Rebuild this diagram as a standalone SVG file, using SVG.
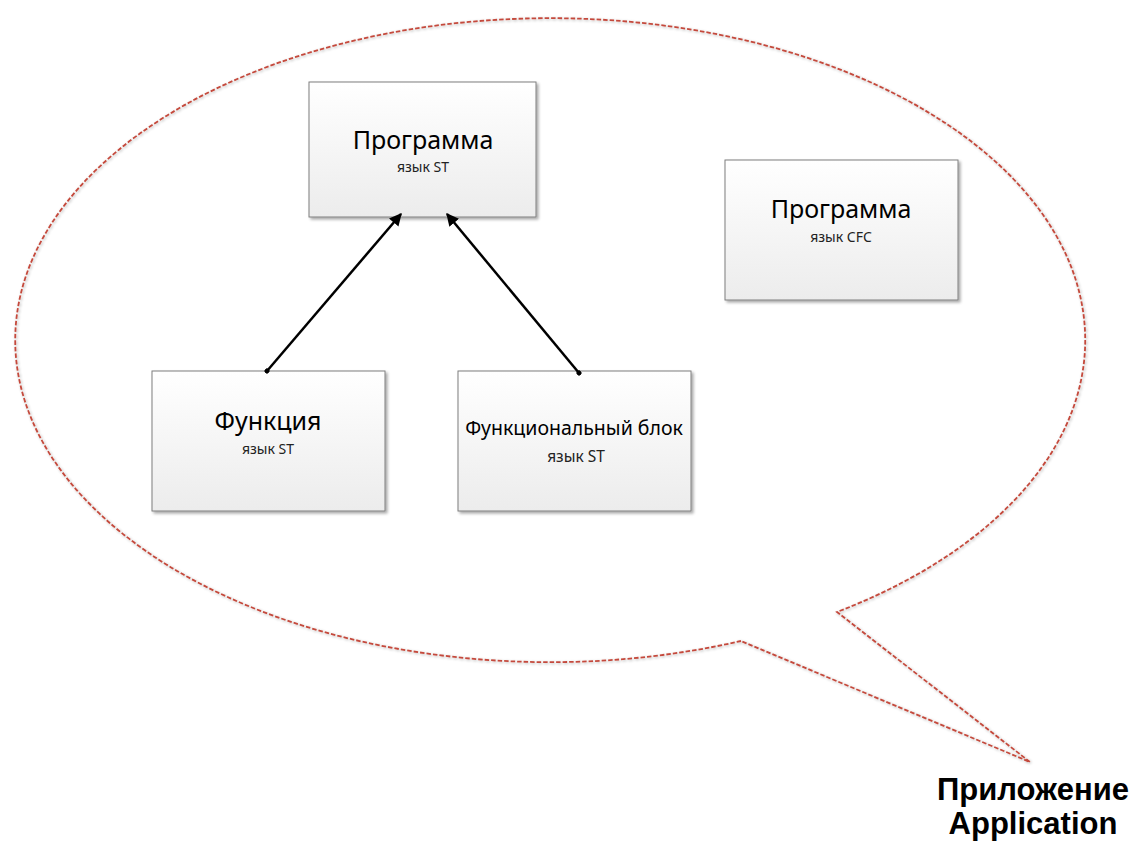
<svg xmlns="http://www.w3.org/2000/svg" width="1135" height="843" viewBox="0 0 1135 843">
  <style>
    .box { fill: url(#boxGrad); stroke: #7f7f7f; stroke-width: 1; filter: url(#shadow); }
    .title { font-family: "Noto Sans", "Open Sans", sans-serif; font-size: 25px; fill: #000; text-anchor: middle; }
    .sub { font-family: "Noto Sans", "Open Sans", sans-serif; font-size: 14px; fill: #222; text-anchor: middle; }
    .bubble { fill: none; stroke: #c44a3c; stroke-width: 1.8; stroke-dasharray: 4.5 2; filter: url(#shadow2); }
    .conn { stroke: #000; stroke-width: 2.5; fill: none; }
    .label { font-family: "Liberation Sans", Arial, sans-serif; font-size: 31px; font-weight: bold; fill: #000; text-anchor: middle; }
  </style>
  <defs>
    <linearGradient id="boxGrad" x1="0" y1="0" x2="0" y2="1">
      <stop offset="0" stop-color="#ffffff"/>
      <stop offset="1" stop-color="#ececec"/>
    </linearGradient>
    <filter id="shadow" x="-10%" y="-10%" width="125%" height="125%">
      <feGaussianBlur in="SourceAlpha" stdDeviation="1.5"/>
      <feOffset dx="1.5" dy="1.5" result="b"/>
      <feComponentTransfer><feFuncA type="linear" slope="0.35"/></feComponentTransfer>
      <feMerge><feMergeNode/><feMergeNode in="SourceGraphic"/></feMerge>
    </filter>
    <filter id="shadow2" x="-5%" y="-5%" width="110%" height="110%">
      <feGaussianBlur in="SourceAlpha" stdDeviation="1.5"/>
      <feOffset dx="1" dy="1"/>
      <feComponentTransfer><feFuncA type="linear" slope="0.3"/></feComponentTransfer>
      <feMerge><feMergeNode/><feMergeNode in="SourceGraphic"/></feMerge>
    </filter>
    <marker id="arrow" viewBox="0 0 10 10" refX="9" refY="5" markerWidth="5" markerHeight="5" orient="auto" markerUnits="strokeWidth">
      <path d="M0,0 L10,5 L0,10 z" fill="#000"/>
    </marker>
    <marker id="dot" viewBox="0 0 10 10" refX="5" refY="5" markerWidth="2" markerHeight="2" orient="auto" markerUnits="strokeWidth">
      <circle cx="5" cy="5" r="5" fill="#000"/>
    </marker>
  </defs>

  <g id="bubble">
    <path class="bubble" d="M741,641 A535,322 0 1 1 837,612 L1030,762 Z"/>
  </g>

  <g id="node-program-st">
    <rect class="box" x="309" y="82" width="227" height="135"/>
    <text class="title" x="423" y="149">Программа</text>
    <text class="sub" x="423" y="172">язык ST</text>
  </g>

  <g id="node-program-cfc">
    <rect class="box" x="725" y="160" width="233" height="140"/>
    <text class="title" x="841" y="218">Программа</text>
    <text class="sub" x="841" y="242">язык CFC</text>
  </g>

  <g id="node-function">
    <rect class="box" x="152" y="371" width="233" height="140"/>
    <text class="title" x="268" y="430">Функция</text>
    <text class="sub" x="268" y="454">язык ST</text>
  </g>

  <g id="node-fb">
    <rect class="box" x="458" y="371" width="233" height="140"/>
    <text class="title" x="574" y="435" style="font-size:19.5px">Функциональный блок</text>
    <text class="sub" x="576" y="462" style="font-size:15.5px">язык ST</text>
  </g>

  <g id="connectors">
    <line class="conn" x1="267" y1="371" x2="401" y2="214" marker-start="url(#dot)" marker-end="url(#arrow)"/>
    <line class="conn" x1="579" y1="373" x2="447" y2="214" marker-start="url(#dot)" marker-end="url(#arrow)"/>
  </g>

  <g id="label-application">
    <text class="label" x="1033" y="800">Приложение</text>
    <text class="label" x="1033" y="834">Application</text>
  </g>
</svg>
